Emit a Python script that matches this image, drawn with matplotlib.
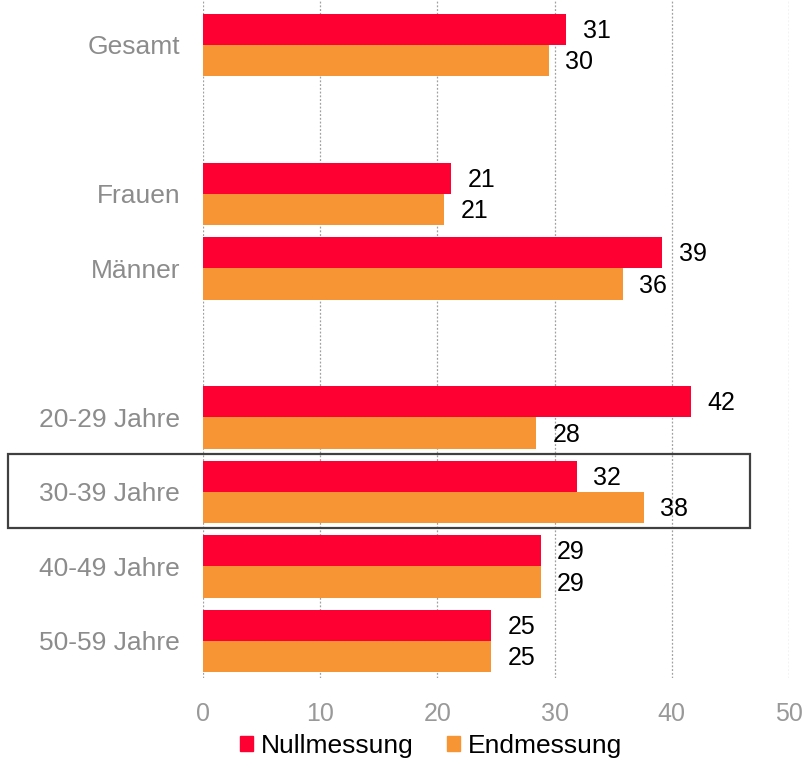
import matplotlib
matplotlib.use("Agg")
import matplotlib.pyplot as plt
from matplotlib.patches import Rectangle
import numpy as np

plt.rcParams['font.family'] = ['Liberation Sans', 'DejaVu Sans']

# Row slots (None marks a blank spacer row)
categories = ["Gesamt", None, "Frauen", "Männer", None,
              "20-29 Jahre", "30-39 Jahre", "40-49 Jahre", "50-59 Jahre"]
nullmessung = [31.0, None, 21.2, 39.2, None, 41.6, 31.9, 28.8, 24.6]
endmessung = [29.5, None, 20.6, 35.8, None, 28.4, 37.6, 28.8, 24.6]
series_names = ["Nullmessung", "Endmessung"]
x_ticks = [0, 10, 20, 30, 40, 50]

c_null = "#FF0033"
c_end = "#F79433"
grey = "#8C8C8C"

fig = plt.figure(figsize=(8.05, 7.59), dpi=100)
W, H = 805, 759
ax = fig.add_axes([203 / W, (H - 678) / H, (789 - 203) / W, 678 / H])

h = 0.42
fs = 18
for i, (cat, a, b) in enumerate(zip(categories, nullmessung, endmessung)):
    if cat is None:
        continue
    ax.barh(i - h / 2, a, height=h, color=c_null, zorder=3)
    ax.barh(i + h / 2, b, height=h, color=c_end, zorder=3)
    ax.text(a + 1.4, i - h / 2 + 0.02, f"{round(a):d}", va="center", ha="left",
            fontsize=fs, color="black")
    ax.text(b + 1.4, i + h / 2 + 0.02, f"{round(b):d}", va="center", ha="left",
            fontsize=fs, color="black")

ax.set_xlim(0, 50)
ax.set_ylim(8.497, -0.604)
ax.set_xticks(x_ticks)
ax.set_xticklabels([str(t) for t in x_ticks], fontsize=fs, color="#999999")
ticks_y = [i for i, c in enumerate(categories) if c is not None]
ax.set_yticks(ticks_y)
ax.set_yticklabels([categories[i] for i in ticks_y], fontsize=19, color=grey)
ax.tick_params(axis="both", length=0)
ax.tick_params(axis="y", pad=16.5)
ax.tick_params(axis="x", pad=17)
for s in ax.spines.values():
    s.set_visible(False)
ax.grid(axis="x", color="#A0A0A0", linestyle=(0, (1.5, 1.5)), linewidth=0.9, zorder=0)
ax.grid(axis="y", visible=False)

# Highlight frame around the 30-39 row
frame = Rectangle((8 / W, (H - 528) / H), (750 - 8) / W, (528 - 454) / H,
                  transform=fig.transFigure, fill=False, edgecolor="#404040",
                  linewidth=1.6, clip_on=False)
fig.patches.append(frame)

handles = [Rectangle((0, 0), 1, 1, color=c_null), Rectangle((0, 0), 1, 1, color=c_end)]
fig.legend(handles, series_names, loc="center", bbox_to_anchor=(431 / W, 1 - 746 / H),
           ncol=2, frameon=False, fontsize=19, handlelength=0.5, handleheight=0.5,
           handletextpad=0.3, columnspacing=1.25, borderpad=0)

fig.savefig("out.png", dpi=100)
